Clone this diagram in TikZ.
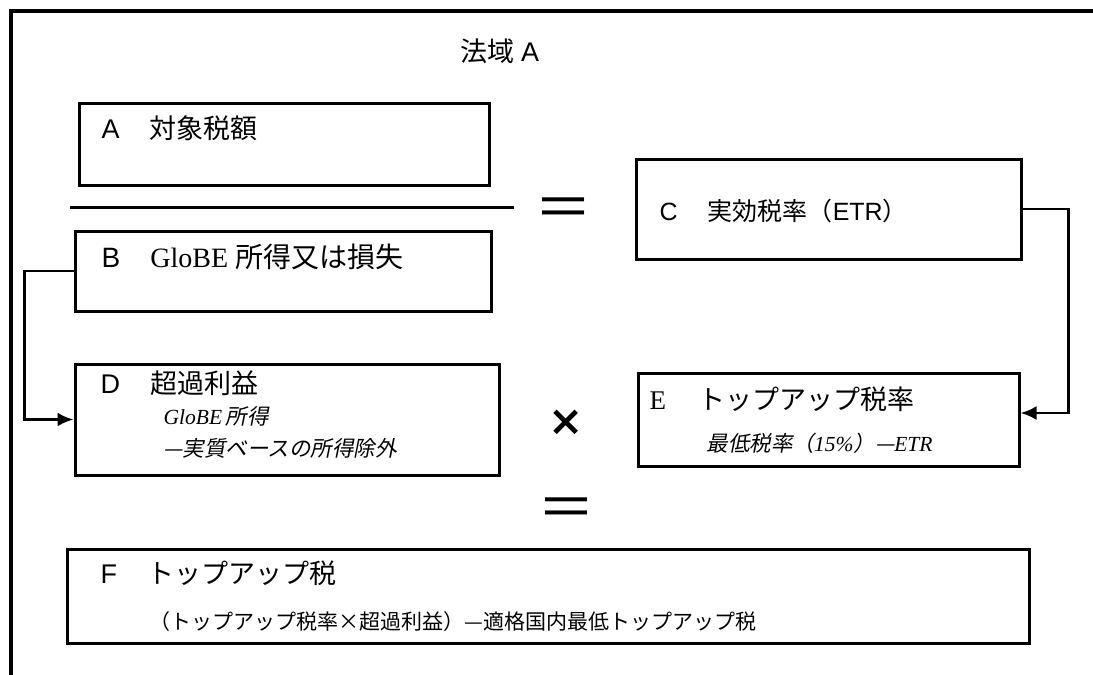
\documentclass[tikz,border=0pt]{standalone}
\usepackage{fontspec}
\setmainfont{Liberation Serif}
\setsansfont{Liberation Sans}
\newfontfamily\jpfont{Noto Sans CJK JP}
\newfontfamily\jpslant{Noto Sans CJK JP}[FakeSlant=0.2]
\newfontfamily\symfont{DejaVu Sans}
\usetikzlibrary{arrows.meta,positioning}

\begin{document}
\begin{tikzpicture}[x=1pt, y=-1pt,
    box/.style={draw, line width=3pt, inner sep=0pt},
    title/.style={anchor=west, inner sep=0pt, font=\fontsize{27}{32}\selectfont},
    note/.style={anchor=west, inner sep=0pt, font=\fontsize{21.5}{26}\selectfont},
    conn/.style={line width=2.8pt, line cap=rect, -{Latex[length=16pt,width=14pt]}},
    sign/.style={inner sep=0pt, font=\jpfont\fontsize{58}{62}\selectfont}]
  \useasboundingbox (0,0) rectangle (1093,675);

  % frame of the jurisdiction
  \draw[line width=3.2pt] (11,675) -- (11,11) -- (1093,11);
  \node[font=\jpfont\fontsize{27}{32}\selectfont] (juris) at (500,51) {法域 {\sffamily A}};

  % boxes
  \node[box, minimum width=410pt, minimum height=82pt] (A) at (284,144) {};
  \node[box, minimum width=416pt, minimum height=80pt] (B) at (283,271) {};
  \node[box, minimum width=385pt, minimum height=100pt] (C) at (828.5,209) {};
  \node[box, minimum width=424pt, minimum height=111pt] (D) at (287,419.5) {};
  \node[box, minimum width=381pt, minimum height=93pt] (E) at (828.5,419.5) {};
  \node[box, minimum width=962pt, minimum height=94pt] (F) at (548,596) {};

  % texts in the boxes
  \node[title] (At) at ([shift={(24,27)}]A.north west) {\sffamily A\hspace{30pt}\jpfont 対象税額};
  \node[title, font=\fontsize{28}{33}\selectfont] (Bt) at ([shift={(28,27)}]B.north west) {\sffamily B\hspace{30pt}\rmfamily GloBE {\jpfont 所得又は損失}};
  \node[title, font=\fontsize{25}{30}\selectfont] (Ct) at ([shift={(25,53)}]C.north west) {\sffamily C\hspace{30pt}\jpfont 実効税率（{\sffamily ETR}）};
  \node[title] (Dt) at ([shift={(27,21)}]D.north west) {\sffamily D\hspace{30pt}\jpfont 超過利益};
  \node[note] (Dn1) at ([shift={(90,54)}]D.north west) {\itshape GloBE\,\jpslant 所得};
  \node[note] (Dn2) at ([shift={(90,86)}]D.north west) {\jpslant —実質ベースの所得除外};
  \node[title] (Et) at ([shift={(13,28)}]E.north west) {\rmfamily E\hspace{32pt}\jpfont トップアップ税率};
  \node[note] (En) at ([shift={(70,72)}]E.north west) {\jpslant 最低税率（{\rmfamily\itshape 15\%}）—{\rmfamily\itshape ETR}};
  \node[title] (Ft) at ([shift={(35,26)}]F.north west) {\sffamily F\hspace{30pt}\jpfont トップアップ税};
  \node[note, font=\fontsize{21}{25}\selectfont] (Fn) at ([shift={(84,74)}]F.north west) {\jpfont （トップアップ税率×超過利益）—適格国内最低トップアップ税};

  % fraction bar and signs
  \draw[line width=3pt] (70,207) -- (514,207);
  \node[sign] (eq1) at (563,213) {＝};
  \node[sign, font=\symfont\bfseries\fontsize{42}{46}\selectfont] (times) at (566,423) {×};
  \node[sign] (eq2) at (566,513) {＝};

  % connectors
  \draw[conn] (B.west) -- ++(-49,0) |- (D.west);
  \draw[conn] (C.east) -- ++(46,0) |- ([yshift=6.5pt]E.east);
\end{tikzpicture}
\end{document}
